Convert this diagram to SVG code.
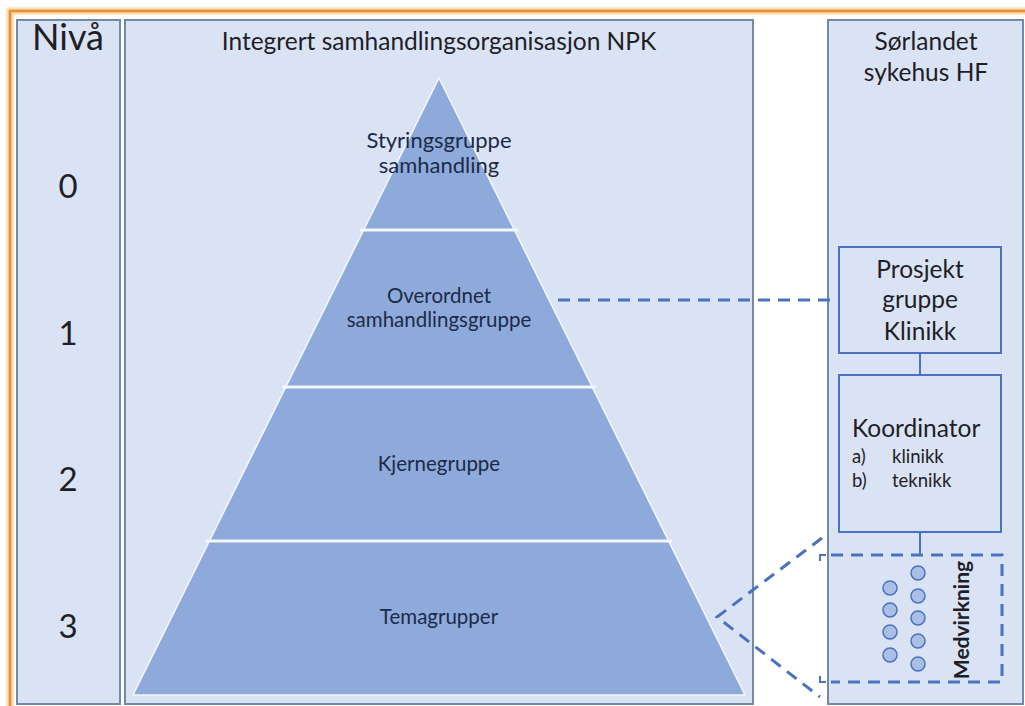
<svg xmlns="http://www.w3.org/2000/svg" width="1025" height="706" viewBox="0 0 1025 706">
  <style>
    .panel { fill: #dae3f3; stroke: #7488a8; stroke-width: 2; }
    .box { fill: none; stroke: #4a72bf; stroke-width: 2; }
    .txt { font-family: Lato, "Open Sans", "Liberation Sans", sans-serif; fill: #1e1e28; }
    .tier { font-family: Lato, "Open Sans", "Liberation Sans", sans-serif; fill: #1c2a48; }
    .dash { fill: none; stroke: #4a72bf; stroke-width: 3; stroke-dasharray: 12 8; }
    .link { fill: none; stroke: #4a72bf; stroke-width: 2; }
    .dot { fill: #a9bfe5; stroke: #4a72bf; stroke-width: 1.5; }
  </style>
  <defs>
    <filter id="glow" x="-5%" y="-5%" width="110%" height="110%">
      <feGaussianBlur stdDeviation="1.5"/>
    </filter>
  </defs>

  <rect width="1025" height="706" fill="#ffffff"/>

  <!-- outer frame -->
  <rect x="10" y="11" width="1030" height="720" fill="none" stroke="#f7c98e" stroke-width="6" filter="url(#glow)"/>
  <rect x="10" y="11" width="1030" height="720" fill="none" stroke="#e8923a" stroke-width="2.5"/>

  <!-- level column -->
  <g id="levels">
    <rect class="panel" x="17" y="20" width="103" height="684"/>
    <text class="txt" x="68" y="50" font-size="36" text-anchor="middle">Nivå</text>
    <text class="txt" x="68" y="198" font-size="33" text-anchor="middle">0</text>
    <text class="txt" x="68" y="345" font-size="33" text-anchor="middle">1</text>
    <text class="txt" x="68" y="491" font-size="33" text-anchor="middle">2</text>
    <text class="txt" x="68" y="638" font-size="33" text-anchor="middle">3</text>
  </g>

  <!-- NPK organisation -->
  <g id="npk">
    <rect class="panel" x="125" y="20" width="628" height="684"/>
    <text class="txt" x="439" y="50" font-size="24.5" text-anchor="middle">Integrert samhandlingsorganisasjon NPK</text>
  </g>

  <!-- pyramid -->
  <g id="pyramid">
    <polygon points="439,78 745,695 133,695" fill="#8eaadb" stroke="#f4f7fc" stroke-width="1.5"/>
    <line x1="360" y1="230" x2="518" y2="230" stroke="#f4f7fc" stroke-width="3"/>
    <line x1="282" y1="387" x2="596" y2="387" stroke="#f4f7fc" stroke-width="3"/>
    <line x1="206" y1="541" x2="672" y2="541" stroke="#f4f7fc" stroke-width="3"/>
  </g>
  <g id="tier0">
    <text class="tier" x="439" y="148" font-size="22" text-anchor="middle">Styringsgruppe</text>
    <text class="tier" x="439" y="173" font-size="22" text-anchor="middle">samhandling</text>
  </g>
  <g id="tier1">
    <text class="tier" x="439" y="303" font-size="20.5" text-anchor="middle">Overordnet</text>
    <text class="tier" x="439" y="327" font-size="20.5" text-anchor="middle">samhandlingsgruppe</text>
  </g>
  <g id="tier2">
    <text class="tier" x="439" y="471" font-size="20.5" text-anchor="middle">Kjernegruppe</text>
  </g>
  <g id="tier3">
    <text class="tier" x="439" y="624" font-size="20.5" text-anchor="middle">Temagrupper</text>
  </g>

  <!-- hospital column -->
  <g id="hospital">
    <rect class="panel" x="828" y="20" width="195" height="684"/>
    <text class="txt" x="926" y="50" font-size="24.5" text-anchor="middle">Sørlandet</text>
    <text class="txt" x="926" y="81" font-size="24.5" text-anchor="middle">sykehus HF</text>
  </g>

  <g id="prosjektgruppe">
    <rect class="box" x="839" y="247" width="162" height="106"/>
    <text class="txt" x="920" y="278" font-size="24.5" text-anchor="middle">Prosjekt</text>
    <text class="txt" x="920" y="308" font-size="24.5" text-anchor="middle">gruppe</text>
    <text class="txt" x="920" y="340" font-size="24.5" text-anchor="middle">Klinikk</text>
  </g>

  <g id="koordinator">
    <rect class="box" x="839" y="375" width="162" height="157"/>
    <text class="txt" x="852" y="437" font-size="24.5">Koordinator</text>
    <text class="txt" x="852" y="463" font-size="18.5">a)</text>
    <text class="txt" x="892" y="463" font-size="18.5">klinikk</text>
    <text class="txt" x="852" y="487" font-size="18.5">b)</text>
    <text class="txt" x="892" y="487" font-size="18.5">teknikk</text>
  </g>

  <g id="medvirkning">
    <path class="dash" d="M831,555 H1002 V682 H831"/>
    <path class="link" stroke-width="3" d="M820,561 V555 H826 M820,676 V682 H826"/>
    <circle class="dot" cx="890" cy="588" r="7"/>
    <circle class="dot" cx="890" cy="610" r="7"/>
    <circle class="dot" cx="890" cy="632" r="7"/>
    <circle class="dot" cx="890" cy="655" r="7"/>
    <circle class="dot" cx="918" cy="573" r="7"/>
    <circle class="dot" cx="918" cy="596" r="7"/>
    <circle class="dot" cx="918" cy="618" r="7"/>
    <circle class="dot" cx="918" cy="641" r="7"/>
    <circle class="dot" cx="918" cy="664" r="7"/>
    <text class="txt" x="0" y="0" font-size="21" font-weight="bold" text-anchor="middle" transform="translate(969,620) rotate(-90)">Medvirkning</text>
  </g>

  <!-- connectors -->
  <g id="connectors">
    <line class="link" x1="920" y1="353" x2="920" y2="375"/>
    <line class="link" x1="920" y1="532" x2="920" y2="555"/>
    <line class="dash" x1="558" y1="300" x2="839" y2="300"/>
    <path class="dash" d="M822,538 L717,617 L820,697"/>
  </g>
</svg>
